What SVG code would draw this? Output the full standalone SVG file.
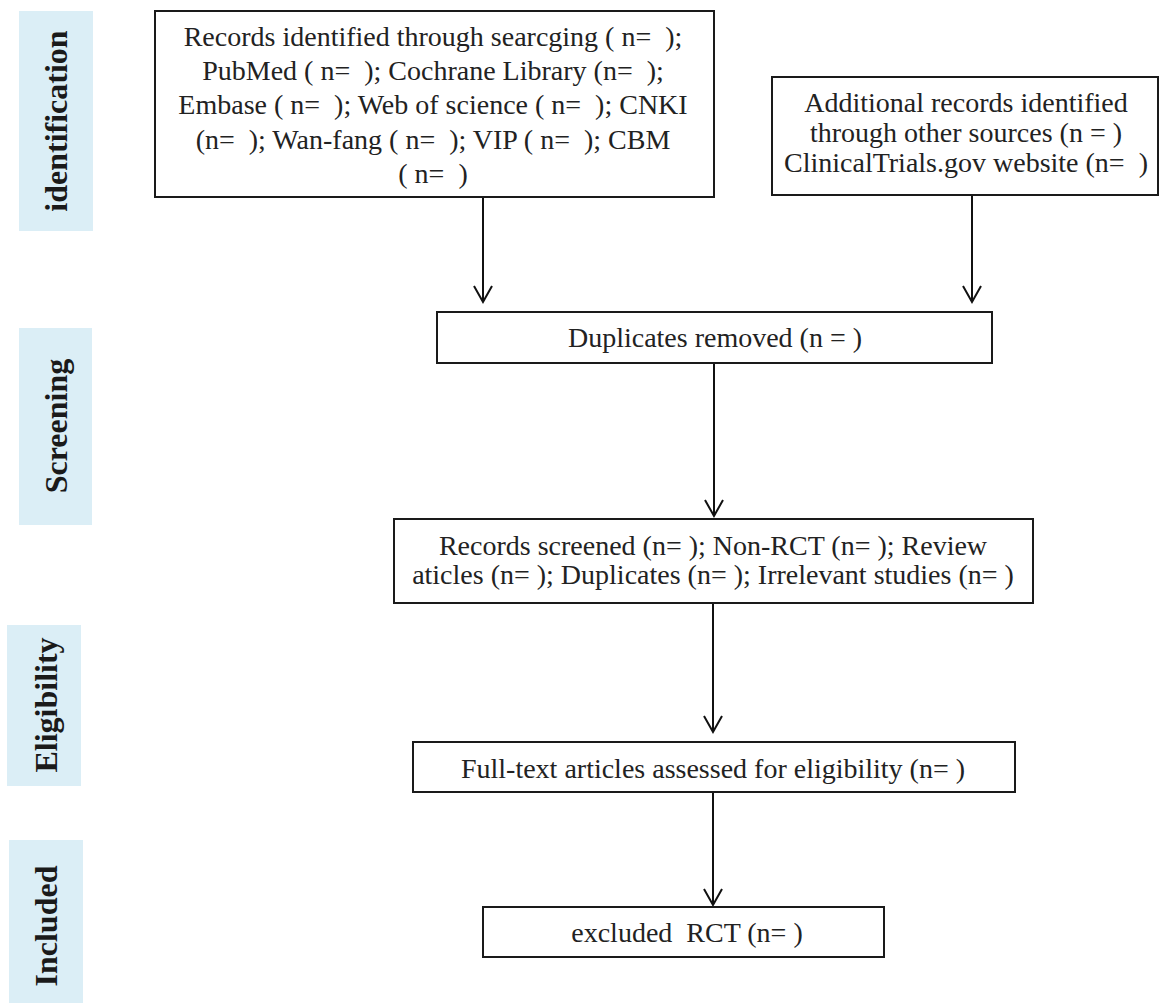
<svg xmlns="http://www.w3.org/2000/svg" width="1160" height="1003" viewBox="0 0 1160 1003">
<style>
.bg{fill:#dbeef6}
.lbl{font-family:'Times New Roman','Liberation Serif',serif;font-weight:bold;font-size:32px;fill:#1a1a1a;text-anchor:middle;dominant-baseline:central}
.box{fill:#fff;stroke:#1a1a1a;stroke-width:2}
.t{font-family:'Liberation Serif','Times New Roman',serif;font-size:28px;fill:#222;text-anchor:middle;white-space:pre}
.ln{stroke:#111;stroke-width:2;fill:none}
.ah{stroke:#111;stroke-width:2;fill:none}
</style>
<rect width="1160" height="1003" fill="#fff"/>
<g id="stage-identification"><rect class="bg" x="19" y="11" width="74" height="220"/><text class="lbl" transform="translate(56,121) rotate(-90)">identification</text></g>
<g id="stage-screening"><rect class="bg" x="19" y="328" width="73" height="197"/><text class="lbl" transform="translate(56,426) rotate(-90)">Screening</text></g>
<g id="stage-eligibility"><rect class="bg" x="7" y="625" width="74" height="161"/><text class="lbl" transform="translate(46,705) rotate(-90)">Eligibility</text></g>
<g id="stage-included"><rect class="bg" x="9" y="840" width="74" height="163"/><text class="lbl" transform="translate(46,926) rotate(-90)">Included</text></g>
<g id="connectors">
<path class="ln" d="M483 197V302M972 195V302M714 363V516M713 603V732M713 792V905"/>
<path class="ah" d="M474 286L483 302L492 286M963 286L972 302L981 286M705 500L714 516L723 500M704 716L713 732L722 716M704 889L713 905L722 889"/>
</g>
<g id="n1"><rect class="box" x="155" y="11" width="559" height="186"/>
<text class="t"><tspan x="433" y="46">Records identified through searcging ( n=  );</tspan><tspan x="433" y="80">PubMed ( n=  ); Cochrane Library (n=  );</tspan><tspan x="433" y="114">Embase ( n=  ); Web of science ( n=  ); CNKI</tspan><tspan x="433" y="149">(n=  ); Wan-fang ( n=  ); VIP ( n=  ); CBM</tspan><tspan x="433" y="183">( n=  )</tspan></text></g>
<g id="n2"><rect class="box" x="772" y="77" width="386" height="118"/>
<text class="t"><tspan x="966" y="112">Additional records identified</tspan><tspan x="966" y="142">through other sources (n = )</tspan><tspan x="966" y="172">ClinicalTrials.gov website (n=  )</tspan></text></g>
<g id="n3"><rect class="box" x="437" y="312" width="555" height="51"/><text class="t" x="715" y="347">Duplicates removed (n = )</text></g>
<g id="n4"><rect class="box" x="394" y="519" width="639" height="84"/>
<text class="t"><tspan x="713" y="555">Records screened (n= ); Non-RCT (n= ); Review</tspan><tspan x="713" y="584">aticles (n= ); Duplicates (n= ); Irrelevant studies (n= )</tspan></text></g>
<g id="n5"><rect class="box" x="413" y="742" width="602" height="50"/><text class="t" x="713" y="778">Full-text articles assessed for eligibility (n= )</text></g>
<g id="n6"><rect class="box" x="483" y="907" width="401" height="50"/><text class="t" x="687" y="942">excluded  RCT (n= )</text></g>
</svg>
